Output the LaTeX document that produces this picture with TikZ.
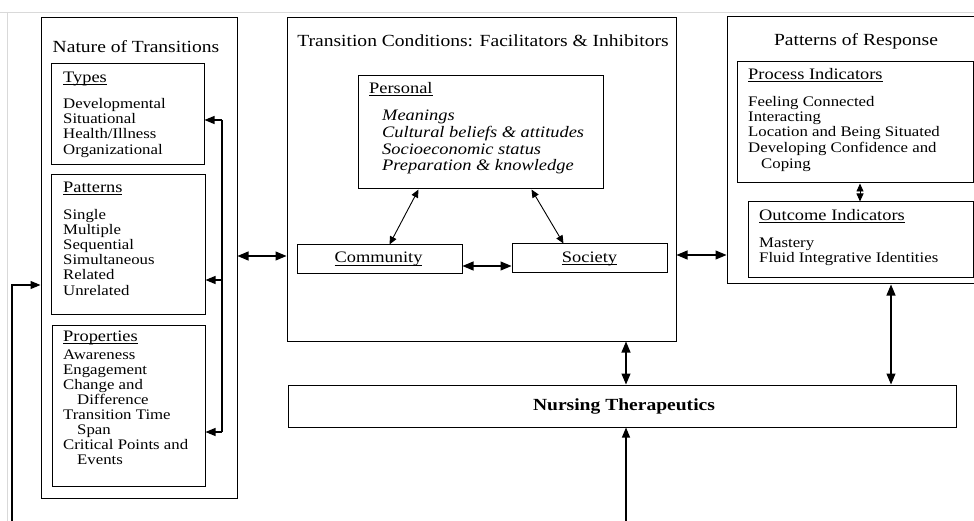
\documentclass[tikz,border=0pt]{standalone}
\usepackage{fontspec}
\setmainfont{Liberation Serif}[FakeStretch=1.15]
\usepackage{tikz}
\usetikzlibrary{arrows.meta}
\usetikzlibrary{fit}

\newcommand{\itemfont}{\fontsize{14.6}{15}\selectfont}
\newcommand{\headfont}{\fontsize{16}{17}\selectfont}
\newcommand{\titlefont}{\fontsize{17}{18}\selectfont}
% underline drawn just below the baseline
\newcommand{\uln}[1]{\setbox0\hbox{#1}\rlap{\rule[-2.6pt]{\wd0}{0.7pt}}\box0}

\tikzset{
  box/.style={draw, line width=1pt, inner sep=0pt},
  item/.style={anchor=west, inner sep=0pt, font=\itemfont, text height=10pt, text depth=3pt},
  head/.style={item, font=\headfont},
  title/.style={inner sep=0pt, font=\titlefont, text height=11pt, text depth=3pt},
  arr/.style={-{Triangle[length=10pt,width=8pt]}, line width=1.1pt},
  dbl/.style={{Triangle[length=11pt,width=9pt]}-{Triangle[length=11pt,width=9pt]}, line width=1.1pt},
  thindbl/.style={{Triangle[length=8pt,width=7pt]}-{Triangle[length=8pt,width=7pt]}, line width=0.9pt}
}

\begin{document}
\begin{tikzpicture}[x=1pt,y=-1pt]
\useasboundingbox (0,0) rectangle (974,521);
\clip (0,0) rectangle (974,521);
% frame of the page
\draw[black!15] (0,12) -- (974,12);
\draw[black!15] (7,12) -- (7,521);

% nature of transitions
\node[box, fit={(41,18) (237,498)}] (nature) {};
\node[title] (naturet) at (136,49) {Nature of Transitions};
\node[box, fit={(51,64) (204,165)}] (types) {};
\node[head] (typesh) at (63,79) {\uln{Types}};
\foreach \txt/\ypos in {Developmental/105, Situational/120, {Health/Illness}/135, Organizational/151} {
  \node[item] (ty\ypos) at (63,\ypos) {\txt};
}
\node[box, fit={(51,175) (205,314)}] (patterns) {};
\node[head] (patternsh) at (63,189) {\uln{Patterns}};
\foreach \txt/\ypos in {Single/216, Multiple/231, Sequential/246, Simultaneous/261, Related/276, Unrelated/292} {
  \node[item] (pa\ypos) at (63,\ypos) {\txt};
}
\node[box, fit={(52,325) (205,486)}] (props) {};
\node[head] (propsh) at (63,338) {\uln{Properties}};
\foreach \txt/\xpos/\ypos in {Awareness/63/356, Engagement/63/371, Change and/63/386, Difference/77/401,
    Transition Time/63/416, Span/77/431, Critical Points and/63/446, Events/77/461} {
  \node[item] (pr\ypos) at (\xpos,\ypos) {\txt};
}

% transition conditions
\node[box, fit={(287,18) (676,341)}] (cond) {};
\node[title] (condt) at (483,43) {Transition Conditions: Facilitators \& Inhibitors};
\node[box, fit={(358,76) (603,189)}] (pers) {};
\node[head] (persh) at (369,90) {\uln{Personal}};
\foreach \txt/\ypos in {Meanings/117, Cultural beliefs \& attitudes/134, Socioeconomic status/151, Preparation \& knowledge/167} {
  \node[head, font=\headfont\itshape] (pe\ypos) at (382,\ypos) {\txt};
}
\node[box, fit={(297,245) (462,274)}] (comm) {};
\node[head, anchor=center] (commt) at ([xshift=-1pt]comm.center) {\uln{Community}};
\node[box, fit={(512,244) (667,273)}] (soc) {};
\node[head, anchor=center] (soct) at (soc.center) {\uln{Society}};

% patterns of response
\node[box, fit={(727,17) (990,284)}] (resp) {};
\node[title] (respt) at (856,42) {Patterns of Response};
\node[box, fit={(737,62) (973,183)}] (proc) {};
\node[head] (proch) at (748,76) {\uln{Process Indicators}};
\foreach \txt/\xpos/\ypos in {Feeling Connected/748/103, Interacting/748/118, Location and Being Situated/748/133,
    Developing Confidence and/748/149, Coping/761/165} {
  \node[item] (pc\ypos) at (\xpos,\ypos) {\txt};
}
\node[box, fit={(748,202) (973,278)}] (outc) {};
\node[head] (outch) at (759,217) {\uln{Outcome Indicators}};
\foreach \txt/\ypos in {Mastery/244, Fluid Integrative Identities/259} {
  \node[item] (oc\ypos) at (759,\ypos) {\txt};
}

% nursing therapeutics
\node[box, fit={(288,385) (956,427)}] (nurs) {};
\node[title, font=\titlefont\bfseries] (nurst) at ([xshift=2pt]nurs.center) {Nursing Therapeutics};

% connectors
\coordinate (brt) at (222,120);
\coordinate (brp) at (222,280);
\coordinate (brr) at (222,432);
\draw[line width=1.1pt] (brt) -- (brr);
\foreach \c/\b in {brt/types, brp/patterns, brr/props} {
  \draw[arr] (\c) -- (\c -| \b.east);
}
\coordinate (fb) at (12,530);
\coordinate (fby) at (0,285);
\draw[arr] (fb) |- (nature.west |- fby);
\coordinate (ya) at (0,256);
\draw[dbl] (nature.east |- ya) -- (cond.west |- ya);
\coordinate (yb) at (0,255);
\draw[dbl] (cond.east |- yb) -- (resp.west |- yb);
\coordinate (yc) at (0,266);
\draw[dbl] (comm.east |- yc) -- (soc.west |- yc);
\draw[thindbl] ([xshift=-62pt]pers.south) -- ([xshift=10pt]comm.north);
\draw[thindbl] ([xshift=51pt]pers.south) -- ([xshift=-26pt]soc.north);
\coordinate (xa) at (860,0);
\draw[thindbl] (proc.south -| xa) -- (outc.north -| xa);
\coordinate (xb) at (626,0);
\draw[dbl] (cond.south -| xb) -- (nurs.north -| xb);
\coordinate (xc) at (891,0);
\draw[dbl] (resp.south -| xc) -- (nurs.north -| xc);
\coordinate (nb) at (626,530);
\draw[arr] (nb) -- (nurs.south -| nb);
\end{tikzpicture}
\end{document}
